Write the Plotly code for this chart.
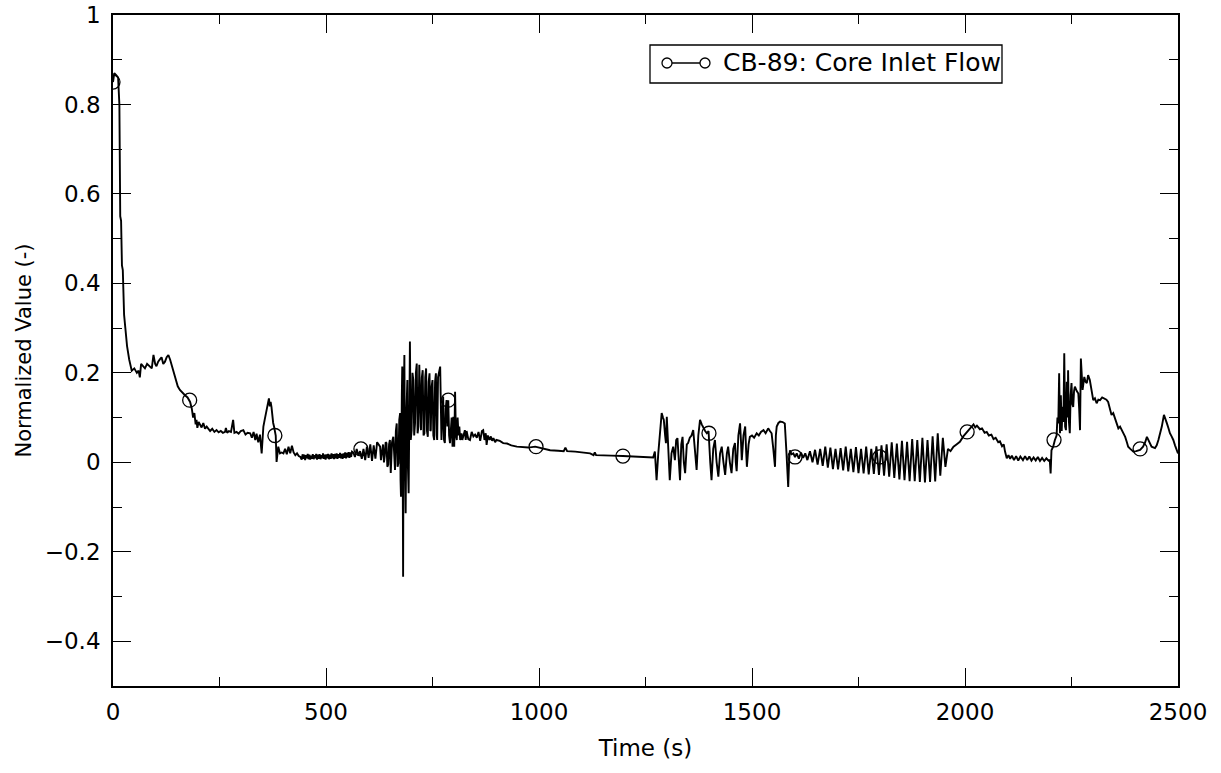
import plotly.graph_objects as go

# ---------------- data ----------------
time_a = [0, 3, 8, 12, 15, 17, 19, 21, 23, 26, 29, 33, 38, 44, 50, 56, 60, 63, 66, 70, 75, 80, 86, 91, 95, 99, 102, 106, 110, 114, 118, 122, 126, 130]
flow_a = [0.85, 0.87, 0.865, 0.86, 0.80, 0.55, 0.54, 0.44, 0.43, 0.33, 0.30, 0.26, 0.23, 0.205, 0.21, 0.20, 0.205, 0.19, 0.22, 0.215, 0.21, 0.22, 0.215, 0.21, 0.24, 0.22, 0.215, 0.225, 0.23, 0.235, 0.22, 0.225, 0.235, 0.24]

time_b = [134, 140, 146, 152, 157, 163, 169, 175, 181, 185, 188, 191, 194, 196, 198, 201, 204, 208, 212, 216, 220, 225, 228, 233, 238, 243, 248, 253, 258, 263, 265, 268, 272, 277, 282, 285, 290, 295, 300, 306, 311, 316, 322, 326, 330, 334, 337, 341, 345, 349, 351, 353, 356, 359, 361, 364, 366, 368, 370, 372, 374, 376, 378, 380, 382, 384, 386, 388, 392, 396, 400]
flow_b = [0.23, 0.21, 0.185, 0.17, 0.162, 0.155, 0.15, 0.145, 0.135, 0.12, 0.10, 0.11, 0.085, 0.095, 0.077, 0.09, 0.085, 0.078, 0.088, 0.075, 0.08, 0.072, 0.07, 0.075, 0.068, 0.072, 0.067, 0.07, 0.066, 0.068, 0.077, 0.066, 0.07, 0.068, 0.095, 0.066, 0.068, 0.064, 0.07, 0.072, 0.062, 0.066, 0.065, 0.055, 0.068, 0.05, 0.064, 0.045, 0.062, 0.02, 0.07, 0.08, 0.095, 0.11, 0.117, 0.13, 0.143, 0.125, 0.135, 0.124, 0.10, 0.088, 0.08, 0.066, 0.06, 0.001, 0.02, 0.035, 0.02, 0.022, 0.02]

time_c = [404, 408, 412, 416, 420, 424, 428, 432, 436, 440,
          443, 445, 447, 449, 451, 453, 455, 457, 459, 461, 463, 465, 467, 469, 471, 473, 475, 477, 479, 481,
          483, 485, 487, 489, 491, 493, 495, 497, 499, 501, 503, 505, 507, 509, 511, 513, 515, 517, 519, 521,
          523, 525, 527, 529, 531, 533, 535, 537, 539, 541, 543, 545, 547, 549, 551, 553, 555, 557, 559, 561,
          564, 568, 572, 576, 580, 584, 588, 592, 596, 600, 604, 608, 612, 616, 620]
flow_c = [0.03, 0.018, 0.035, 0.02, 0.037, 0.022, 0.016, 0.02, 0.014, 0.012,
          0.006, 0.018, 0.008, 0.017, 0.005, 0.016, 0.009, 0.019, 0.007, 0.017, 0.006, 0.015, 0.008, 0.018, 0.007, 0.016, 0.009, 0.019, 0.006, 0.017,
          0.008, 0.018, 0.007, 0.016, 0.009, 0.02, 0.008, 0.017, 0.006, 0.018, 0.009, 0.019, 0.007, 0.017, 0.008, 0.02, 0.009, 0.018, 0.007, 0.019,
          0.009, 0.02, 0.008, 0.018, 0.01, 0.021, 0.009, 0.019, 0.008, 0.02, 0.01, 0.022, 0.009, 0.021, 0.011, 0.023, 0.01, 0.022, 0.012, 0.024,
          0.022, 0.012, 0.03, 0.015, 0.025, 0.008, 0.03, 0.005, 0.035, 0.01, 0.04, 0.003, 0.038, 0.008, 0.045]

time_d = [627, 629, 631, 633, 634, 636, 638, 640, 642, 644, 646, 648, 650, 652, 655, 658, 660, 662, 664, 666, 668, 670, 672, 674, 675, 676, 678, 679, 680, 681, 682, 684, 685, 687, 689, 691, 692, 694, 696, 697, 699, 701, 703, 705, 707, 709, 711, 713, 715, 717, 719, 721, 723, 725, 727, 729, 731, 733, 735, 737, 739, 741, 743, 745, 746, 748, 750, 752, 754, 756, 758, 760, 761, 763, 765, 768, 771, 773, 775, 777, 779, 781, 783, 785, 787, 789, 791, 795, 797, 799, 801, 803, 805, 807, 809, 811, 813, 815, 818, 820, 822, 826, 828, 830]
flow_d = [0.035, 0.005, 0.02, 0.038, 0.04, 0.0, 0.015, 0.045, 0.043, -0.01, -0.005, 0.04, 0.05, -0.024, 0.045, 0.057, 0.0, -0.017, 0.07, 0.087, -0.01, -0.002, 0.095, 0.11, -0.04, -0.077, 0.15, 0.214, 0.02, -0.256, 0.1, 0.24, 0.05, -0.114, 0.12, 0.184, 0.0, -0.069, 0.15, 0.27, 0.05, 0.072, 0.2, 0.184, 0.06, 0.087, 0.2, 0.221, 0.065, 0.08, 0.218, 0.1, 0.072, 0.19, 0.206, 0.06, 0.065, 0.19, 0.21, 0.07, 0.057, 0.18, 0.199, 0.07, 0.072, 0.17, 0.184, 0.06, 0.05, 0.18, 0.199, 0.06, 0.05, 0.19, 0.203, 0.214, 0.05, 0.12, 0.147, 0.05, 0.043, 0.12, 0.139, 0.08, 0.139, 0.06, 0.043, 0.1, 0.035, 0.102, 0.035, 0.158, 0.06, 0.05, 0.1, 0.06, 0.08, 0.05, 0.065, 0.05, 0.057, 0.072, 0.05, 0.07]

time_e = [834, 838, 842, 846, 850, 854, 858, 862, 866, 869, 872, 875, 877, 880, 884, 887, 890, 893, 897, 900, 908, 916, 925, 935, 948, 960, 975, 991, 1010, 1026, 1045, 1058, 1062, 1066, 1085, 1104, 1120, 1128, 1131, 1134, 1151, 1170, 1197, 1220, 1240, 1261, 1268]
flow_e = [0.052, 0.05, 0.068, 0.058, 0.062, 0.055, 0.068, 0.048, 0.07, 0.072, 0.05, 0.065, 0.039, 0.06, 0.05, 0.058, 0.048, 0.054, 0.045, 0.05, 0.048, 0.043, 0.042, 0.038, 0.035, 0.034, 0.033, 0.035, 0.03, 0.027, 0.026, 0.025, 0.033, 0.025, 0.024, 0.022, 0.02, 0.016, 0.022, 0.016, 0.016, 0.015, 0.014, 0.013, 0.012, 0.011, 0.011]

time_f = [1272, 1276, 1280, 1284, 1288, 1291, 1293, 1296, 1298, 1300, 1303, 1307, 1311, 1315, 1319, 1322, 1325, 1328, 1331, 1334, 1337, 1340, 1343, 1347, 1350, 1354, 1358, 1362, 1366, 1370, 1374, 1378, 1382, 1386, 1390, 1394, 1398, 1402, 1405, 1409, 1413, 1417, 1421, 1425, 1429, 1433, 1437, 1441, 1444, 1448, 1452, 1456, 1460, 1462, 1464, 1468, 1472, 1474, 1476, 1480, 1484, 1486, 1488, 1492, 1495, 1500, 1505, 1511, 1516, 1521, 1527, 1532, 1538, 1542, 1546, 1550, 1554, 1556, 1558, 1562, 1566, 1572, 1577, 1581, 1585, 1587, 1589, 1593, 1597, 1601]
flow_f = [0.024, -0.04, 0.02, 0.06, 0.11, 0.1, 0.095, 0.06, 0.043, 0.102, 0.03, -0.04, 0.02, 0.035, 0.005, 0.05, 0.054, -0.01, -0.04, 0.04, 0.057, 0.0, -0.024, 0.04, 0.043, 0.055, 0.06, 0.072, 0.02, -0.017, 0.06, 0.095, 0.085, 0.076, 0.07, 0.065, 0.07, 0.0, -0.04, 0.03, 0.05, 0.0, -0.032, 0.02, 0.035, 0.0, -0.028, 0.02, 0.035, 0.0, -0.024, 0.03, 0.043, 0.0, -0.02, 0.06, 0.087, 0.05, 0.005, 0.06, 0.08, 0.03, -0.01, 0.04, 0.057, 0.06, 0.055, 0.065, 0.06, 0.068, 0.072, 0.065, 0.076, 0.07, 0.065, 0.03, -0.01, 0.06, 0.08, 0.088, 0.091, 0.09, 0.087, 0.02, -0.055, 0.0, 0.027, 0.018, 0.02, 0.012]

time_g = [1605, 1610, 1615, 1620, 1625, 1630, 1636, 1642, 1648, 1654, 1660, 1666, 1672, 1678, 1684, 1690, 1696, 1702, 1708, 1714, 1720, 1726, 1732, 1738, 1744, 1750, 1756, 1762, 1768, 1774, 1780, 1786, 1792, 1798, 1804, 1810, 1816, 1822, 1828, 1834, 1840, 1846, 1852, 1858, 1864, 1870, 1876, 1882, 1888, 1894, 1900, 1906, 1912, 1918, 1924, 1930, 1936, 1942, 1948, 1954, 1960]
flow_g = [0.02, 0.008, 0.022, 0.01, 0.02, 0.005, 0.025, 0.0, 0.028, -0.005, 0.03, -0.008, 0.035, -0.012, 0.033, -0.015, 0.03, -0.016, 0.032, -0.018, 0.035, -0.02, 0.03, -0.022, 0.034, -0.024, 0.03, -0.025, 0.035, -0.027, 0.03, -0.026, 0.036, -0.028, 0.038, -0.03, 0.04, -0.032, 0.045, -0.035, 0.042, -0.038, 0.048, -0.04, 0.046, -0.042, 0.052, -0.042, 0.05, -0.044, 0.055, -0.045, 0.05, -0.044, 0.058, -0.043, 0.065, -0.03, 0.055, -0.01, 0.03]

time_h = [1966, 1973, 1980, 1988, 1996, 2005, 2012, 2020, 2024, 2028, 2035, 2040, 2046, 2051, 2056, 2062, 2067, 2072, 2078, 2082, 2087, 2091, 2094, 2098, 2102, 2106, 2110, 2115, 2120, 2125, 2130, 2136, 2141, 2146, 2151, 2156, 2161, 2166, 2171, 2176, 2181, 2186, 2191, 2196, 2199]
flow_h = [0.025, 0.035, 0.04, 0.046, 0.058, 0.068, 0.075, 0.085, 0.078, 0.082, 0.074, 0.076, 0.066, 0.068, 0.06, 0.062, 0.052, 0.055, 0.045, 0.047, 0.036, 0.04, 0.024, 0.009, 0.016, 0.008, 0.015, 0.005, 0.014, 0.004, 0.013, 0.005, 0.014, 0.005, 0.013, 0.004, 0.011, 0.004, 0.012, 0.003, 0.01, 0.003, 0.009, 0.004, 0.005]

time_i = [2201, 2203, 2207, 2211, 2215, 2217, 2219, 2221, 2223, 2225, 2227, 2229, 2231, 2233, 2235, 2237, 2239, 2241, 2242, 2244, 2246, 2248, 2250, 2252, 2254, 2256, 2258, 2262, 2266, 2268, 2270, 2272, 2274, 2276, 2280, 2283, 2286, 2289, 2293, 2297, 2301, 2305, 2309, 2313, 2317, 2322, 2328, 2332, 2336, 2340, 2344, 2348, 2352, 2356, 2360, 2364, 2368, 2372, 2376, 2380, 2383, 2388, 2395, 2402, 2411, 2418, 2423, 2427, 2432, 2438, 2446, 2450, 2454, 2458, 2462, 2467, 2470, 2474, 2478, 2481, 2485, 2489, 2493, 2497, 2500]
flow_i = [-0.025, 0.027, 0.035, 0.05, 0.06, 0.1, 0.087, 0.199, 0.065, 0.15, 0.07, 0.124, 0.09, 0.244, 0.08, 0.072, 0.18, 0.1, 0.206, 0.09, 0.065, 0.15, 0.177, 0.13, 0.124, 0.16, 0.169, 0.16, 0.154, 0.12, 0.072, 0.232, 0.17, 0.162, 0.191, 0.18, 0.177, 0.195, 0.184, 0.16, 0.139, 0.143, 0.132, 0.14, 0.139, 0.145, 0.143, 0.14, 0.135, 0.12, 0.106, 0.11, 0.098, 0.09, 0.076, 0.08, 0.072, 0.065, 0.057, 0.045, 0.035, 0.03, 0.024, 0.025, 0.028, 0.035, 0.045, 0.057, 0.046, 0.035, 0.032, 0.038, 0.05, 0.065, 0.08, 0.106, 0.095, 0.087, 0.075, 0.065, 0.058, 0.05, 0.038, 0.027, 0.02]

marker_time = [0, 180, 380, 582, 787, 993, 1197, 1399, 1601, 1800, 2005, 2209, 2411]
marker_flow = [0.85, 0.139, 0.06, 0.03, 0.139, 0.035, 0.014, 0.065, 0.012, 0.012, 0.068, 0.05, 0.03]

series_name = "CB-89: Core Inlet Flow"
x_title = "Time (s)"
y_title = "Normalized Value (-)"

time_all = time_a + time_b + time_c + time_d + time_e + time_f + time_g + time_h + time_i
flow_all = flow_a + flow_b + flow_c + flow_d + flow_e + flow_f + flow_g + flow_h + flow_i

FONT = "DejaVu Sans"

fig = go.Figure()
fig.add_trace(go.Scatter(x=time_all, y=flow_all, mode="lines",
                         line=dict(color="black", width=1.9), showlegend=False,
                         hoverinfo="skip"))
fig.add_trace(go.Scatter(x=marker_time, y=marker_flow, mode="markers",
                         marker=dict(symbol="circle-open", size=14, color="black",
                                     line=dict(width=1.3, color="black")),
                         showlegend=False))

axis_common = dict(showline=True, linecolor="black", linewidth=1.7, mirror="ticks",
                   ticks="inside", ticklen=18, tickwidth=1.3, tickcolor="black",
                   showgrid=False, zeroline=False,
                   tickfont=dict(family=FONT, size=23, color="black"))

fig.update_xaxes(range=[0, 2500], tick0=0, dtick=500,
                 minor=dict(ticks="inside", ticklen=9, dtick=250, tickwidth=1.3,
                            tickcolor="black", showgrid=False),
                 ticklabelstandoff=5,
                 title=dict(text=x_title, font=dict(family=FONT, size=23, color="black"), standoff=15),
                 **axis_common)
fig.update_yaxes(range=[-0.5, 1], tick0=0, dtick=0.2,
                 minor=dict(ticks="inside", ticklen=9, dtick=0.1, tickwidth=1.3,
                            tickcolor="black", showgrid=False),
                 ticklabelstandoff=6,
                 title=dict(text=y_title, font=dict(family=FONT, size=21, color="black"), standoff=7),
                 **axis_common)

# legend box drawn in paper coordinates
def px_x(p):
    return (p - 113) / 1065.0

def px_y(p):
    return (686 - p) / 671.0

shapes = [
    dict(type="rect", xref="paper", yref="paper", x0=px_x(650), x1=px_x(1002),
         y0=px_y(83), y1=px_y(45), line=dict(color="black", width=1.3), fillcolor="white"),
    dict(type="line", xref="paper", yref="paper", x0=px_x(672), x1=px_x(700),
         y0=px_y(63), y1=px_y(63), line=dict(color="black", width=1.5)),
    dict(type="circle", xref="paper", yref="paper", x0=px_x(662), x1=px_x(672),
         y0=px_y(68), y1=px_y(58), line=dict(color="black", width=1.3)),
    dict(type="circle", xref="paper", yref="paper", x0=px_x(700), x1=px_x(710),
         y0=px_y(68), y1=px_y(58), line=dict(color="black", width=1.3)),
]
fig.update_layout(
    shapes=shapes,
    annotations=[dict(text=series_name, xref="paper", yref="paper", x=px_x(721), y=px_y(63),
                      xanchor="left", yanchor="middle", showarrow=False,
                      font=dict(family=FONT, size=25, color="black"))],
    width=1221, height=773,
    margin=dict(l=113, r=43, t=15, b=87, autoexpand=False),
    plot_bgcolor="white", paper_bgcolor="white",
    showlegend=False,
    font=dict(family=FONT, color="black"),
)

fig.write_html("out.html")
